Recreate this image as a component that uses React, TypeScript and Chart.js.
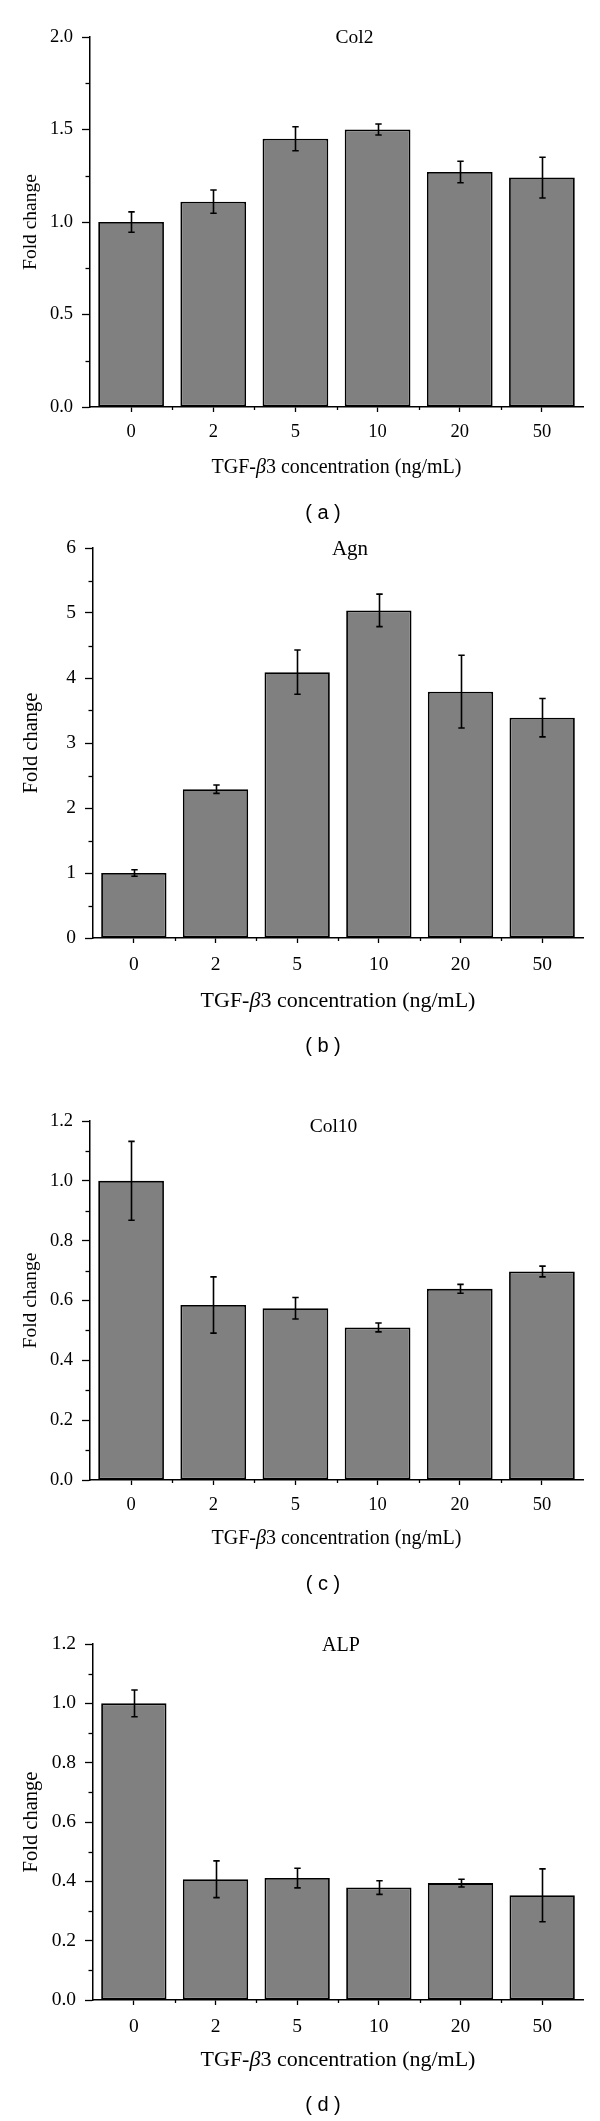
import React, { useEffect, useRef } from "react";
import { Chart, registerables } from "chart.js";

Chart.register(...registerables);

// ---------- data ----------
const categories = ["0", "2", "5", "10", "20", "50"];

const col2Values = [1.0, 1.11, 1.45, 1.5, 1.27, 1.24];
const col2Errors = [0.055, 0.063, 0.065, 0.03, 0.058, 0.11];

const agnValues = [1.0, 2.29, 4.09, 5.04, 3.79, 3.39];
const agnErrors = [0.05, 0.065, 0.34, 0.25, 0.56, 0.295];

const col10Values = [1.0, 0.585, 0.574, 0.51, 0.639, 0.697];
const col10Errors = [0.132, 0.094, 0.036, 0.015, 0.015, 0.018];

const alpValues = [1.0, 0.407, 0.411, 0.379, 0.394, 0.353];
const alpErrors = [0.045, 0.062, 0.033, 0.023, 0.013, 0.089];

const xAxisTitleParts: [string, boolean][] = [
  ["TGF-", false],
  ["\u03B2", true],
  ["3 concentration (ng/mL)", false],
];
const yAxisTitle = "Fold change";

// ---------- layout / style ----------
const SERIF = "'Liberation Serif', 'Times New Roman', serif";
const SANS = "'Liberation Sans', Arial, sans-serif";
const PAD_TOP = 30;
const BOTTOM_SPACE = 118;
const AXIS_RIGHT = 583;

type Panel = {
  title: string;
  values: number[];
  errors: number[];
  yMax: number;
  yStep: number;
  yMinor: number;
  decimals: number;
  plotTop: number;
  plotBottom: number;
  axisLeft: number;
  letter: string;
  tickSize: number;
  labelPad: number;
  titleSize: number;
  xTitleSize: number;
  yTitleSize: number;
  yTitleX: number;
  titleShift: number;
  titleDy: number;
  xTitleDy: number;
  letterDy: number;
};

const panels: Panel[] = [
  { title: "Col2", values: col2Values, errors: col2Errors, yMax: 2, yStep: 0.5, yMinor: 0.25, decimals: 1,
    plotTop: 37, plotBottom: 407, axisLeft: 90, letter: "a", tickSize: 18.5, labelPad: 9, titleSize: 19.5, xTitleSize: 20, yTitleSize: 19.5, yTitleX: 31,
    titleShift: 18, titleDy: 1, xTitleDy: 60.5, letterDy: 106.5 },
  { title: "Agn", values: agnValues, errors: agnErrors, yMax: 6, yStep: 1, yMinor: 0.5, decimals: 0,
    plotTop: 548, plotBottom: 938, axisLeft: 93, letter: "b", tickSize: 19.5, labelPad: 10, titleSize: 21, xTitleSize: 22, yTitleSize: 20.5, yTitleX: 32,
    titleShift: 12, titleDy: 1, xTitleDy: 63.5, letterDy: 108 },
  { title: "Col10", values: col10Values, errors: col10Errors, yMax: 1.2, yStep: 0.2, yMinor: 0.1, decimals: 1,
    plotTop: 1121, plotBottom: 1480, axisLeft: 90, letter: "c", tickSize: 18.5, labelPad: 9, titleSize: 19.5, xTitleSize: 20, yTitleSize: 19.5, yTitleX: 31,
    titleShift: -3, titleDy: 6, xTitleDy: 58.5, letterDy: 104 },
  { title: "ALP", values: alpValues, errors: alpErrors, yMax: 1.2, yStep: 0.2, yMinor: 0.1, decimals: 1,
    plotTop: 1644, plotBottom: 2000, axisLeft: 93, letter: "d", tickSize: 19.5, labelPad: 10, titleSize: 20, xTitleSize: 22, yTitleSize: 20.5, yTitleX: 32,
    titleShift: 3, titleDy: 2, xTitleDy: 60, letterDy: 105 },
];

function makeDecor(p: Panel) {
  return {
    id: "decor" + p.letter,
    afterDraw(chart: any) {
      const ctx: CanvasRenderingContext2D = chart.ctx;
      const { left, right, top, bottom } = chart.chartArea;
      const xs = chart.scales.x;
      const ys = chart.scales.y;
      const meta = chart.getDatasetMeta(0);
      ctx.save();
      ctx.strokeStyle = "#000";
      ctx.fillStyle = "#000";

      // minor y ticks
      ctx.lineWidth = 1.3;
      for (let k = 1; k * p.yMinor <= p.yMax + 1e-9; k++) {
        const v = k * p.yMinor;
        const r = v / p.yStep;
        if (Math.abs(r - Math.round(r)) < 1e-6) continue;
        const py = Math.round(ys.getPixelForValue(v)) + 0.5;
        ctx.beginPath();
        ctx.moveTo(left, py);
        ctx.lineTo(left - 4.5, py);
        ctx.stroke();
      }
      // minor x ticks at category boundaries
      for (let i = 0; i < categories.length - 1; i++) {
        const px = Math.round((xs.getPixelForValue(i) + xs.getPixelForValue(i + 1)) / 2) + 0.5;
        ctx.beginPath();
        ctx.moveTo(px, bottom);
        ctx.lineTo(px, bottom + 3);
        ctx.stroke();
      }

      // error bars
      ctx.lineWidth = 1.6;
      p.values.forEach((v, i) => {
        const bar = meta.data[i];
        const cx = Math.round(bar.x) + 0.5;
        const yt = ys.getPixelForValue(v + p.errors[i]);
        const yb = ys.getPixelForValue(v - p.errors[i]);
        ctx.beginPath();
        ctx.moveTo(cx, yt);
        ctx.lineTo(cx, yb);
        ctx.moveTo(cx - 3.2, yt);
        ctx.lineTo(cx + 3.2, yt);
        ctx.moveTo(cx - 3.2, yb);
        ctx.lineTo(cx + 3.2, yb);
        ctx.stroke();
      });

      const midX = (left + right) / 2;

      // panel title inside plot
      ctx.font = `${p.titleSize}px ${SERIF}`;
      ctx.textAlign = "center";
      ctx.textBaseline = "middle";
      ctx.fillText(p.title, midX + p.titleShift, top + p.titleDy);

      // y axis title
      ctx.save();
      ctx.translate(p.yTitleX, (top + bottom) / 2);
      ctx.rotate(-Math.PI / 2);
      ctx.font = `${p.yTitleSize}px ${SERIF}`;
      ctx.textAlign = "center";
      ctx.textBaseline = "middle";
      ctx.fillText(yAxisTitle, 0, 0);
      ctx.restore();

      // x axis title with italic beta
      const fontFor = (it: boolean) => `${it ? "italic " : ""}${p.xTitleSize}px ${SERIF}`;
      let total = 0;
      const widths = xAxisTitleParts.map(([t, it]) => {
        ctx.font = fontFor(it);
        const w = ctx.measureText(t).width;
        total += w;
        return w;
      });
      let x0 = midX - total / 2;
      ctx.textAlign = "left";
      ctx.textBaseline = "middle";
      xAxisTitleParts.forEach(([t, it], i) => {
        ctx.font = fontFor(it);
        ctx.fillText(t, x0, bottom + p.xTitleDy);
        x0 += widths[i];
      });

      // panel letter
      ctx.font = `20px ${SANS}`;
      ctx.textAlign = "center";
      ctx.fillText(`( ${p.letter} )`, 323, bottom + p.letterDy);

      ctx.restore();
    },
  };
}

function PanelChart({ p }: { p: Panel }) {
  const ref = useRef<HTMLCanvasElement | null>(null);
  const height = p.plotBottom - p.plotTop + PAD_TOP + BOTTOM_SPACE;
  useEffect(() => {
    if (!ref.current) return;
    const chart = new Chart(ref.current, {
      type: "bar",
      data: {
        labels: categories,
        datasets: [
          {
            data: p.values,
            backgroundColor: "#808080",
            borderColor: "#000",
            borderWidth: 1.8,
            borderSkipped: false,
            barPercentage: 0.8,
            categoryPercentage: 1.0,
          },
        ],
      },
      options: {
        responsive: false,
        animation: false,
        devicePixelRatio: 1,
        layout: { padding: { top: PAD_TOP, right: 600 - AXIS_RIGHT, left: 0, bottom: 0 } },
        plugins: { legend: { display: false }, tooltip: { enabled: false }, title: { display: false } },
        scales: {
          x: {
            type: "category",
            offset: true,
            grid: { display: true, drawOnChartArea: false, offset: false, drawTicks: true, tickLength: 5, tickColor: "#000", tickWidth: 1.3 },
            border: { display: true, color: "#000", width: 1.5 },
            ticks: { color: "#000", font: { family: SERIF, size: p.tickSize }, padding: p.labelPad, maxRotation: 0, autoSkip: false },
            afterFit: (s: any) => {
              s.height = BOTTOM_SPACE;
            },
          },
          y: {
            min: 0,
            max: p.yMax,
            grid: { display: true, drawOnChartArea: false, drawTicks: true, tickLength: 8, tickColor: "#000", tickWidth: 1.3 },
            border: { display: true, color: "#000", width: 1.5 },
            ticks: {
              stepSize: p.yStep,
              color: "#000",
              font: { family: SERIF, size: p.tickSize },
              padding: 9,
              callback: (v: any) => Number(v).toFixed(p.decimals),
            },
            afterFit: (s: any) => {
              s.width = p.axisLeft;
            },
          },
        },
      } as any,
      plugins: [makeDecor(p)],
    });
    return () => chart.destroy();
  }, [p]);
  return (
    <canvas
      ref={ref}
      width={600}
      height={height}
      style={{ position: "absolute", left: 0, top: p.plotTop - PAD_TOP, width: 600, height }}
    />
  );
}

export default function App() {
  return (
    <div style={{ position: "absolute", left: 0, top: 0, width: 600, height: 2121, overflow: "hidden", background: "#fff" }}>
      {panels.map((p) => (
        <PanelChart key={p.letter} p={p} />
      ))}
    </div>
  );
}
